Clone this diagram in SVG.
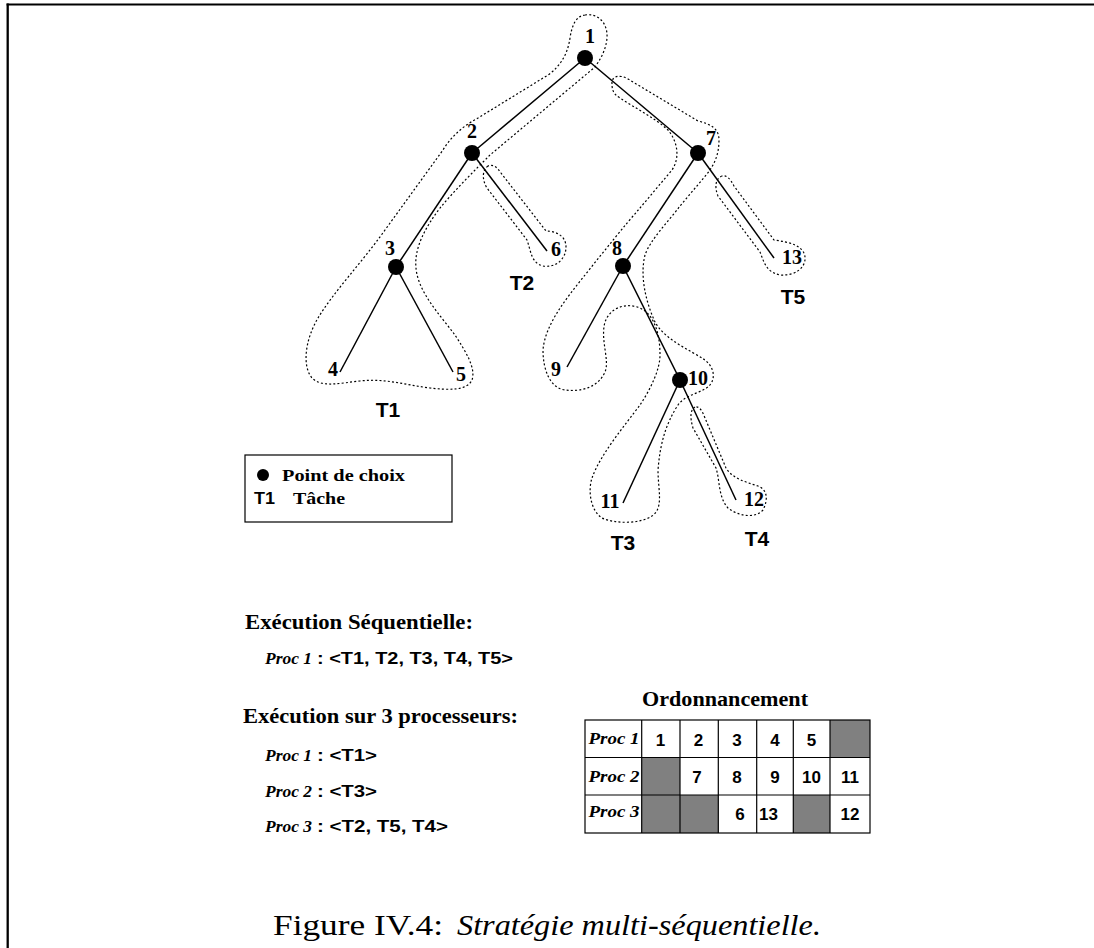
<svg xmlns="http://www.w3.org/2000/svg" width="1094" height="948" viewBox="0 0 1094 948">
<style>
.edge{stroke:#000;stroke-width:1.5;fill:none}
.hull{stroke:#000;stroke-width:1.2;stroke-dasharray:2 2.2;fill:none}
.node{fill:#000}
.num{font-family:"Liberation Serif",serif;font-weight:bold;font-size:20px;fill:#000;text-anchor:middle}
.task{font-family:"Liberation Sans",Arial,sans-serif;font-weight:bold;font-size:21px;fill:#000;text-anchor:middle}
.serb{font-family:"Liberation Serif",serif;font-weight:bold;fill:#000}
.proc{font-family:"Liberation Serif",serif;font-weight:bold;font-style:italic;font-size:17px;fill:#000}
.sans{font-family:"Liberation Sans",Arial,sans-serif;font-weight:bold;font-size:17px;fill:#000}
.cell{font-family:"Liberation Sans",Arial,sans-serif;font-weight:bold;font-size:17px;fill:#000;text-anchor:middle}
.grid{stroke:#000;stroke-width:1.2;fill:none}
.gray{fill:#808080}
.cap{font-family:"Liberation Serif",serif;font-size:29px;fill:#000}
</style>
<g id="frame">
<line x1="7.7" y1="3.4" x2="7.7" y2="948" stroke="#000" stroke-width="2.3"/>
<line x1="6.6" y1="4.4" x2="1094" y2="4.4" stroke="#000" stroke-width="2"/>
</g>
<g id="hulls">
<path id="hull-T1" class="hull" d="M585,15 C597,13 608,22 607,38 C606,50 600,60 595,67 L490,155 C475,170 455,190 440,208 C425,228 414,248 416,268 C418,292 440,315 455,335 C466,352 476,368 472,380 C467,391 448,390 430,388 C405,385 385,378 360,381 C340,383 322,388 312,378 C302,366 305,340 318,318 C335,290 360,265 385,230 L443,150 C452,135 465,125 478,118 L548,75 C562,65 568,52 570,38 C572,25 576,16 585,15 Z"/>
<path id="hull-T2" class="hull" d="M488,166 C482,170 482,180 487,188 L527,240 C531,251 531,263 543,266 C556,268 566,259 566,247 C566,236 556,231 546,231 L501,173 C497,167 493,164 488,166 Z"/>
<path id="hull-T3" class="hull" d="M612,84 C611,76 620,74 628,79 L698,121 C710,124 719,128 719,140 C719,155 714,165 707,174 L680,206 C668,222 650,240 645,255 C640,275 645,300 655,322 C665,340 690,350 705,360 C715,368 716,380 708,387 C698,394 685,395 678,405 C665,425 660,445 658,470 C658,490 664,508 652,516 C640,524 615,524 602,518 C590,510 588,490 592,478 C600,455 625,425 640,405 C650,390 660,370 660,355 C660,335 655,315 640,308 C625,302 610,308 605,322 C600,340 610,360 605,372 C598,388 580,392 565,390 C550,388 543,370 543,350 C545,325 565,300 585,275 C605,250 625,225 640,208 L672,170 C680,158 678,142 668,130 C655,118 635,108 620,98 C613,94 612,89 612,84 Z"/>
<path id="hull-T4" class="hull" d="M695,407 C690,410 690,418 693,428 L716,468 C720,480 718,497 728,508 C738,516 755,519 763,510 C768,500 768,490 758,486 C745,482 732,478 726,468 L705,418 C702,410 699,406 695,407 Z"/>
<path id="hull-T5" class="hull" d="M722,176 C716,178 714,186 718,196 L760,252 C764,262 766,272 780,275 C795,276 806,268 805,257 C804,246 790,242 774,240 L734,186 C730,178 726,175 722,176 Z"/>
</g>
<g id="connectors">
<line class="edge" x1="585" y1="58" x2="472" y2="153"/>
<line class="edge" x1="585" y1="58" x2="698" y2="153"/>
<line class="edge" x1="472" y1="153" x2="396" y2="267"/>
<line class="edge" x1="472" y1="153" x2="547" y2="251"/>
<line class="edge" x1="396" y1="267" x2="340" y2="372"/>
<line class="edge" x1="396" y1="267" x2="453" y2="372"/>
<line class="edge" x1="698" y1="153" x2="623" y2="266"/>
<line class="edge" x1="698" y1="153" x2="774" y2="258"/>
<line class="edge" x1="623" y1="266" x2="567" y2="367"/>
<line class="edge" x1="623" y1="266" x2="680" y2="380"/>
<line class="edge" x1="680" y1="380" x2="623" y2="503"/>
<line class="edge" x1="680" y1="380" x2="736" y2="500"/>
</g>
<g id="n1"><circle class="node" cx="585" cy="58" r="8"/><text class="num" x="590" y="43">1</text></g>
<g id="n2"><circle class="node" cx="472" cy="153" r="8"/><text class="num" x="472" y="138">2</text></g>
<g id="n3"><circle class="node" cx="396" cy="267" r="8"/><text class="num" x="390" y="255">3</text></g>
<g id="n4"><text class="num" x="333" y="376">4</text></g>
<g id="n5"><text class="num" x="461" y="381">5</text></g>
<g id="n6"><text class="num" x="556" y="256">6</text></g>
<g id="n7"><circle class="node" cx="698" cy="153" r="8"/><text class="num" x="711" y="145">7</text></g>
<g id="n8"><circle class="node" cx="623" cy="266" r="8"/><text class="num" x="617" y="255">8</text></g>
<g id="n9"><text class="num" x="556" y="376">9</text></g>
<g id="n10"><circle class="node" cx="680" cy="380" r="8"/><text class="num" x="698" y="385">10</text></g>
<g id="n11"><text class="num" x="610" y="508">11</text></g>
<g id="n12"><text class="num" x="754" y="506">12</text></g>
<g id="n13"><text class="num" x="792" y="264">13</text></g>
<g id="tasks">
<text class="task" x="388" y="417">T1</text>
<text class="task" x="522" y="290">T2</text>
<text class="task" x="623" y="550">T3</text>
<text class="task" x="757" y="546">T4</text>
<text class="task" x="793" y="304">T5</text>
</g>
<g id="legend">
<rect x="245" y="455" width="207" height="67" fill="none" stroke="#000" stroke-width="1.2"/>
<circle class="node" cx="263" cy="475" r="6"/>
<text class="serb" x="282" y="481" font-size="17.5" textLength="123" lengthAdjust="spacingAndGlyphs">Point de choix</text>
<text class="sans" x="254" y="504" font-size="18" textLength="21" lengthAdjust="spacingAndGlyphs">T1</text>
<text class="serb" x="293" y="504" font-size="17.5" textLength="52" lengthAdjust="spacingAndGlyphs">Tâche</text>
</g>
<g id="execution">
<text class="serb" x="245" y="629" font-size="22" textLength="228" lengthAdjust="spacingAndGlyphs">Exécution Séquentielle:</text>
<text class="proc" x="265" y="664" textLength="47" lengthAdjust="spacingAndGlyphs">Proc 1</text>
<text class="sans" x="317" y="664" textLength="196" lengthAdjust="spacingAndGlyphs">: &lt;T1, T2, T3, T4, T5&gt;</text>
<text class="serb" x="243" y="723" font-size="22" textLength="275" lengthAdjust="spacingAndGlyphs">Exécution sur 3 processeurs:</text>
<text class="proc" x="265" y="761" textLength="47" lengthAdjust="spacingAndGlyphs">Proc 1</text>
<text class="sans" x="317" y="761" textLength="60" lengthAdjust="spacingAndGlyphs">: &lt;T1&gt;</text>
<text class="proc" x="265" y="797" textLength="47" lengthAdjust="spacingAndGlyphs">Proc 2</text>
<text class="sans" x="317" y="797" textLength="60" lengthAdjust="spacingAndGlyphs">: &lt;T3&gt;</text>
<text class="proc" x="265" y="832" textLength="47" lengthAdjust="spacingAndGlyphs">Proc 3</text>
<text class="sans" x="317" y="832" textLength="131" lengthAdjust="spacingAndGlyphs">: &lt;T2, T5, T4&gt;</text>
</g>
<g id="schedule">
<text class="serb" x="642" y="706" font-size="22" textLength="166" lengthAdjust="spacingAndGlyphs">Ordonnancement</text>
<rect class="gray" x="830" y="720" width="40" height="37.5"/>
<rect class="gray" x="641.7" y="757.5" width="38.3" height="37.5"/>
<rect class="gray" x="641.7" y="795" width="76.6" height="38"/>
<rect class="gray" x="793.3" y="795" width="36.7" height="38"/>
<rect class="grid" x="585" y="720" width="285" height="113"/>
<line class="grid" x1="585" y1="757.5" x2="870" y2="757.5"/>
<line class="grid" x1="585" y1="795" x2="870" y2="795"/>
<line class="grid" x1="641.7" y1="720" x2="641.7" y2="833"/>
<line class="grid" x1="680" y1="720" x2="680" y2="833"/>
<line class="grid" x1="718.3" y1="720" x2="718.3" y2="833"/>
<line class="grid" x1="756.7" y1="720" x2="756.7" y2="833"/>
<line class="grid" x1="793.3" y1="720" x2="793.3" y2="833"/>
<line class="grid" x1="830" y1="720" x2="830" y2="833"/>
<text class="proc" x="588.5" y="744" font-size="18" textLength="51" lengthAdjust="spacingAndGlyphs">Proc 1</text>
<text class="proc" x="588.5" y="782" font-size="18" textLength="51" lengthAdjust="spacingAndGlyphs">Proc 2</text>
<text class="proc" x="588.5" y="817" font-size="18" textLength="51" lengthAdjust="spacingAndGlyphs">Proc 3</text>
<text class="cell" x="660.5" y="746">1</text>
<text class="cell" x="698.5" y="746">2</text>
<text class="cell" x="737" y="746">3</text>
<text class="cell" x="775" y="746">4</text>
<text class="cell" x="811.5" y="746">5</text>
<text class="cell" x="697" y="783">7</text>
<text class="cell" x="737" y="783">8</text>
<text class="cell" x="775" y="783">9</text>
<text class="cell" x="811.5" y="783">10</text>
<text class="cell" x="850" y="783">11</text>
<text class="cell" x="740" y="820">6</text>
<text class="cell" x="768.5" y="820">13</text>
<text class="cell" x="850" y="820">12</text>
</g>
<g id="caption">
<text class="cap" x="273" y="935" textLength="170" lengthAdjust="spacingAndGlyphs">Figure IV.4:</text>
<text class="cap" x="457" y="935" font-style="italic" textLength="364" lengthAdjust="spacingAndGlyphs">Stratégie multi-séquentielle.</text>
</g>
</svg>
